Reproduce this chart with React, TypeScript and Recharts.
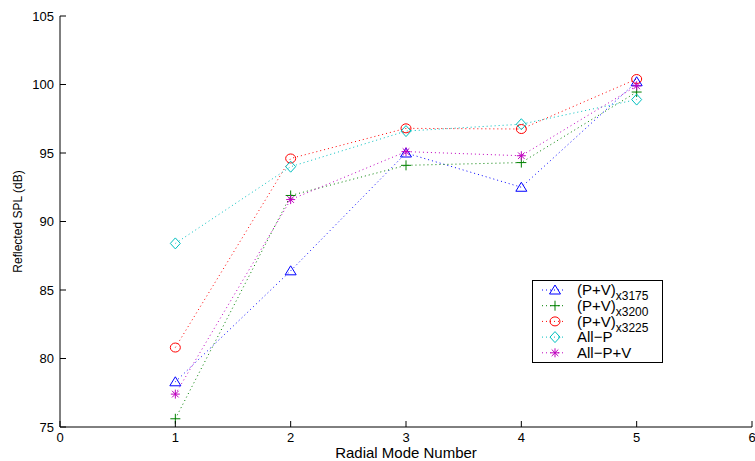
import { LineChart, Line, XAxis, YAxis } from "recharts";

const modes = [1, 2, 3, 4, 5];
const pv3175 = [78.3, 86.4, 95.0, 92.5, 100.2];
const pv3200 = [75.6, 91.9, 94.1, 94.3, 99.45];
const pv3225 = [80.8, 94.6, 96.8, 96.75, 100.4];
const allP = [88.4, 94.0, 96.6, 97.1, 98.9];
const allPV = [77.4, 91.6, 95.1, 94.8, 99.9];

const xTicks = [0, 1, 2, 3, 4, 5, 6];
const yTicks = [75, 80, 85, 90, 95, 100, 105];

const FONT = "'Liberation Sans', Arial, Helvetica, sans-serif";
const TM = 6;
const TICK_LEN = 6;

type Shape = "triangle" | "plus" | "circle" | "diamond" | "star";

const series: { key: string; name: string; sub?: string; color: string; shape: Shape; values: number[] }[] = [
  { key: "s1", name: "(P+V)", sub: "x3175", color: "#0000ff", shape: "triangle", values: pv3175 },
  { key: "s2", name: "(P+V)", sub: "x3200", color: "#008000", shape: "plus", values: pv3200 },
  { key: "s3", name: "(P+V)", sub: "x3225", color: "#ff0000", shape: "circle", values: pv3225 },
  { key: "s4", name: "All\u2212P", color: "#00bfbf", shape: "diamond", values: allP },
  { key: "s5", name: "All\u2212P+V", color: "#bf00bf", shape: "star", values: allPV },
];

const data = modes.map((m, i) => {
  const row: Record<string, number> = { x: m };
  series.forEach(s => {
    row[s.key] = s.values[i];
  });
  return row;
});

function Marker({ cx, cy, color, shape }: { cx: number; cy: number; color: string; shape: Shape }) {
  const common = { stroke: color, strokeWidth: 1, fill: "none" };
  if (shape === "triangle") {
    return <polygon points={`${cx},${cy - 5} ${cx - 5.5},${cy + 4} ${cx + 5.5},${cy + 4}`} {...common} />;
  }
  if (shape === "plus") {
    return (
      <g {...common}>
        <line x1={cx - 5} x2={cx + 5} y1={cy} y2={cy} />
        <line x1={cx} x2={cx} y1={cy - 5} y2={cy + 5} />
      </g>
    );
  }
  if (shape === "circle") {
    return <ellipse cx={cx} cy={cy} rx={5} ry={4.5} {...common} />;
  }
  if (shape === "diamond") {
    return <polygon points={`${cx},${cy - 5.5} ${cx + 5},${cy} ${cx},${cy + 5.5} ${cx - 5},${cy}`} {...common} />;
  }
  return (
    <g {...common}>
      <line x1={cx - 4.5} x2={cx + 4.5} y1={cy} y2={cy} />
      <line x1={cx} x2={cx} y1={cy - 4.5} y2={cy + 4.5} />
      <line x1={cx - 3.3} x2={cx + 3.3} y1={cy - 3.3} y2={cy + 3.3} />
      <line x1={cx - 3.3} x2={cx + 3.3} y1={cy + 3.3} y2={cy - 3.3} />
    </g>
  );
}

function BottomTick({ x, y, payload }: any) {
  const ay = y - TM;
  return (
    <g>
      <line x1={x} x2={x} y1={ay} y2={ay - TICK_LEN} stroke="#000" />
      <text x={x} y={y} dy={9} textAnchor="middle" fontSize={13} fontFamily={FONT} fill="#000">
        {payload.value}
      </text>
    </g>
  );
}

function TopTick({ x, y }: any) {
  const ay = y + TM;
  return <line x1={x} x2={x} y1={ay} y2={ay + TICK_LEN} stroke="#000" />;
}

function LeftTick({ x, y, payload }: any) {
  const ax = x + TM;
  return (
    <g>
      <line x1={ax} x2={ax + TICK_LEN} y1={y} y2={y} stroke="#000" />
      <text x={x} y={y} dy="0.35em" textAnchor="end" fontSize={13} fontFamily={FONT} fill="#000">
        {payload.value}
      </text>
    </g>
  );
}

function RightTick({ x, y }: any) {
  const ax = x - TM;
  return <line x1={ax} x2={ax - TICK_LEN} y1={y} y2={y} stroke="#000" />;
}

function LegendBox() {
  const rowH = 15.7;
  return (
    <svg width={131} height={83} style={{ display: "block" }}>
      <rect x={0.5} y={0.5} width={130} height={82} fill="#fff" stroke="#000" />
      {series.map((s, i) => {
        const cy = 10 + i * rowH;
        return (
          <g key={s.key}>
            <line x1={10} x2={34} y1={cy} y2={cy} stroke={s.color} strokeDasharray="1 3" />
            <Marker cx={23} cy={cy} color={s.color} shape={s.shape} />
            <text x={45} y={cy} dy="0.35em" fontSize={15} fontFamily={FONT} fill="#000">
              {s.name}
              {s.sub && (
                <tspan fontSize={12} dy={5}>
                  {s.sub}
                </tspan>
              )}
            </text>
          </g>
        );
      })}
    </svg>
  );
}

export default function App() {
  return (
    <div style={{ position: "absolute", left: 0, top: 0, width: 755, height: 461, background: "#fff" }}>
      <LineChart width={755} height={461} data={data} margin={{ top: 16, right: 3, left: 0, bottom: 0 }}>
        <XAxis
          dataKey="x"
          type="number"
          domain={[0, 6]}
          ticks={xTicks}
          allowDataOverflow
          height={34}
          tickSize={0}
          tickMargin={TM}
          tickLine={false}
          axisLine={{ stroke: "#000" }}
          tick={<BottomTick />}
          interval={0}
          label={{
            content: ({ viewBox }: any) => (
              <text
                x={viewBox.x + viewBox.width / 2}
                y={457.5}
                textAnchor="middle"
                fontSize={15}
                fontFamily={FONT}
                fill="#000"
              >
                Radial Mode Number
              </text>
            ),
          }}
        />
        <XAxis
          xAxisId="top"
          orientation="top"
          dataKey="x"
          type="number"
          domain={[0, 6]}
          ticks={xTicks}
          height={0}
          tickSize={0}
          tickMargin={TM}
          tickLine={false}
          axisLine={{ stroke: "#000" }}
          tick={<TopTick />}
          interval={0}
        />
        <YAxis
          type="number"
          domain={[75, 105]}
          ticks={yTicks}
          allowDataOverflow
          width={60}
          tickSize={0}
          tickMargin={TM}
          tickLine={false}
          axisLine={{ stroke: "#000" }}
          tick={<LeftTick />}
          interval={0}
          label={{
            content: ({ viewBox }: any) => {
              const cy = viewBox.y + viewBox.height / 2;
              return (
                <text
                  x={18}
                  y={cy}
                  dy="0.35em"
                  textAnchor="middle"
                  transform={`rotate(-90 18 ${cy})`}
                  fontSize={12}
                  fontFamily={FONT}
                  fill="#000"
                >
                  Reflected SPL (dB)
                </text>
              );
            },
          }}
        />
        <YAxis
          yAxisId="right"
          orientation="right"
          type="number"
          domain={[75, 105]}
          ticks={yTicks}
          width={0}
          tickSize={0}
          tickMargin={TM}
          tickLine={false}
          axisLine={{ stroke: "#000" }}
          tick={<RightTick />}
          interval={0}
        />
        {series.map(s => (
          <Line
            key={s.key}
            dataKey={s.key}
            name={s.sub ? `${s.name}${s.sub}` : s.name}
            type="linear"
            stroke={s.color}
            strokeWidth={1}
            strokeDasharray="1 3"
            isAnimationActive={false}
            dot={(p: any) => <Marker key={`${s.key}-${p.index}`} cx={p.cx} cy={p.cy} color={s.color} shape={s.shape} />}
            activeDot={false}
          />
        ))}
      </LineChart>
      <div style={{ position: "absolute", left: 532, top: 280 }}>
        <LegendBox />
      </div>
    </div>
  );
}
